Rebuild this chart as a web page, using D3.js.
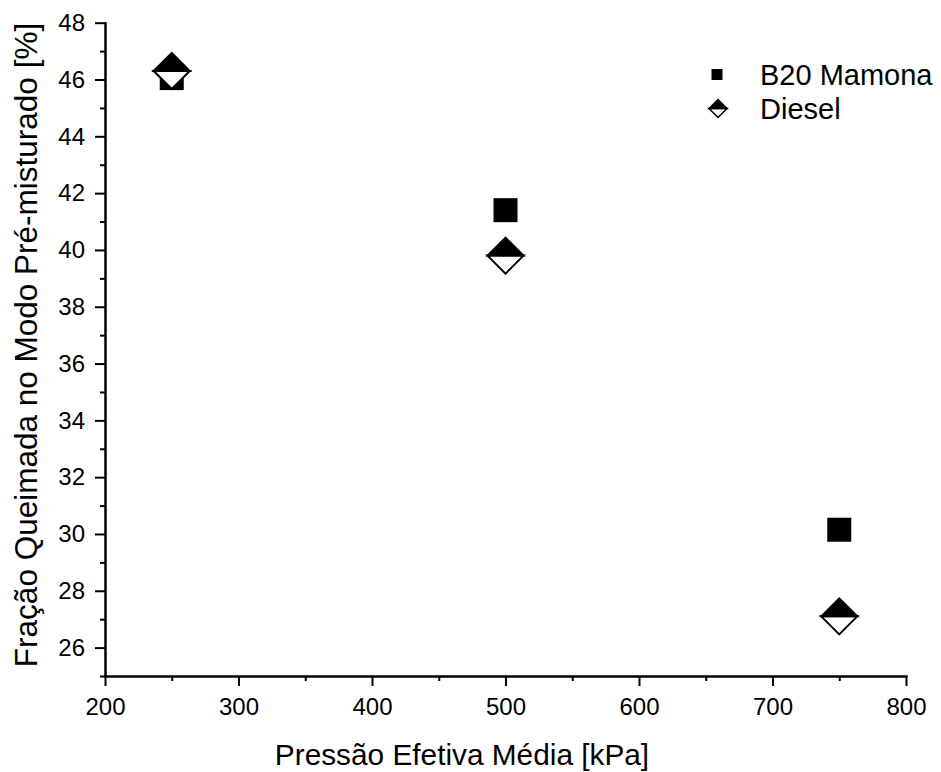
<!DOCTYPE html>
<html>
<head>
<meta charset="utf-8">
<script src="https://cdn.jsdelivr.net/npm/d3@7"></script>
<style>
  body { margin: 0; background: #fff; }
  svg { display: block; font-family: "Liberation Sans", Arial, sans-serif; }
  .axis path, .axis line { stroke: #000; stroke-width: 2; }
  .axis text { fill: #000; font-size: 24px; font-family: "Liberation Sans", Arial, sans-serif; }
</style>
</head>
<body>
<svg></svg>
<script>
let pressure = [250, 500, 750]
let b20Mamona = [46.05, 41.4, 30.15]
let diesel = [46.3, 39.8, 27.1]
let seriesNames = ['B20 Mamona', 'Diesel']
let xTicks = [200, 300, 400, 500, 600, 700, 800]
let xMinor = [250, 350, 450, 550, 650, 750]
let yTicks = [26, 28, 30, 32, 34, 36, 38, 40, 42, 44, 46, 48]
let yMinor = [25, 27, 29, 31, 33, 35, 37, 39, 41, 43, 45, 47]

let width = 941
let height = 772
let plotLeft = 105, plotRight = 906, plotTop = 22.7, plotBottom = 676

let svg = d3.select('svg').attr('width', width).attr('height', height)

let xScale = d3.scaleLinear().domain([200, 800]).range([plotLeft, plotRight])
let yScale = d3.scaleLinear().domain([25, 48]).range([plotBottom, plotTop])

// minor ticks first, majors on top
svg.append('g').attr('class', 'axis')
    .attr('transform', 'translate(0,' + plotBottom + ')')
    .call(d3.axisBottom(xScale).tickValues(xMinor).tickSize(5).tickFormat('').tickSizeOuter(0))
svg.append('g').attr('class', 'axis')
    .attr('transform', 'translate(' + plotLeft + ',0)')
    .call(d3.axisLeft(yScale).tickValues(yMinor).tickSize(5).tickFormat('').tickSizeOuter(0))

svg.append('g').attr('class', 'axis')
    .attr('transform', 'translate(0,' + plotBottom + ')')
    .call(d3.axisBottom(xScale).tickValues(xTicks).tickSize(10).tickPadding(12).tickSizeOuter(0))
svg.append('g').attr('class', 'axis')
    .attr('transform', 'translate(' + plotLeft + ',0)')
    .call(d3.axisLeft(yScale).tickValues(yTicks).tickSize(10).tickPadding(10).tickSizeOuter(0))

svg.selectAll('.axis path').attr('stroke-linecap', 'square')

// axis titles
svg.append('text')
    .attr('x', 462).attr('y', 765)
    .attr('text-anchor', 'middle')
    .style('font-size', '29.8px')
    .text('Pressão Efetiva Média [kPa]')

svg.append('text')
    .attr('transform', 'translate(37,' + 345 + ') rotate(-90)')
    .attr('text-anchor', 'middle')
    .style('font-size', '31.5px')
    .text('Fração Queimada no Modo Pré-misturado [%]')

const drawSquare = (g, cx, cy, s) => {
    g.append('rect')
        .attr('x', cx - s / 2).attr('y', cy - s / 2)
        .attr('width', s).attr('height', s)
        .attr('fill', '#000')
}

const drawDiamond = (g, cx, cy, r, sw) => {
    g.append('path')
        .attr('d', `M${cx - r},${cy} L${cx},${cy + r} L${cx + r},${cy} Z`)
        .attr('fill', '#fff').attr('stroke', '#000').attr('stroke-width', sw)
    g.append('path')
        .attr('d', `M${cx - r},${cy} L${cx},${cy - r} L${cx + r},${cy} Z`)
        .attr('fill', '#000').attr('stroke', '#000').attr('stroke-width', sw)
}

let marks = svg.append('g')
b20Mamona.forEach((v, i) => {
    drawSquare(marks, xScale(pressure[i]), yScale(v), 24)
})
diesel.forEach((v, i) => {
    drawDiamond(marks, xScale(pressure[i]), yScale(v), 18, 2)
})

// legend
let legend = svg.append('g')
drawSquare(legend, 717, 74.5, 11)
drawDiamond(legend, 718, 108.5, 9, 1.5)
legend.selectAll('text')
    .data(seriesNames)
    .enter()
    .append('text')
    .attr('x', 760)
    .attr('y', (d, i) => 85 + i * 33.5)
    .style('font-size', '29px')
    .text(d => d)
</script>
</body>
</html>
